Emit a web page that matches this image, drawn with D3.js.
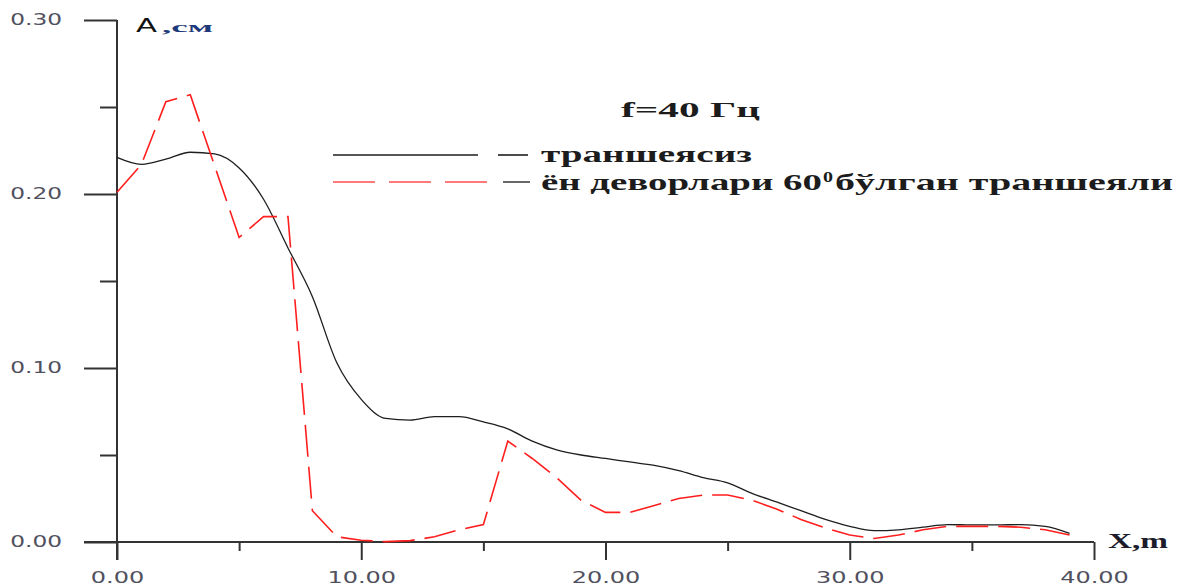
<!DOCTYPE html>
<html>
<head>
<meta charset="utf-8">
<script src="https://cdn.jsdelivr.net/npm/d3@7"></script>
<style>
  html, body { margin: 0; padding: 0; background: #fff; }
  svg { display: block; }
</style>
</head>
<body>
<svg id="chart" width="1181" height="586"></svg>
<script>
// Distance along the surface, m
const distance = [0, 1, 2, 3, 4, 5, 6, 7, 8, 9, 10, 11, 12, 13, 14, 15, 16, 17, 18, 19,
                  20, 21, 22, 23, 24, 25, 26, 27, 28, 29, 30, 31, 32, 33, 34, 35, 36, 37, 38, 39];

// Vibration amplitude without a trench, cm
const ampNoTrench = [0.221, 0.217, 0.220, 0.224, 0.223, 0.215, 0.197, 0.169, 0.141, 0.103,
                     0.082, 0.071, 0.070, 0.072, 0.072, 0.069, 0.065, 0.058, 0.053, 0.050,
                     0.048, 0.046, 0.044, 0.041, 0.037, 0.034, 0.028, 0.023, 0.018, 0.013,
                     0.009, 0.0065, 0.007, 0.0085, 0.010, 0.0098, 0.0098, 0.010, 0.009, 0.005];

// Vibration amplitude with a trench whose side walls are at 60°, cm
const ampTrench60 = [0.201, 0.217, 0.253, 0.257, 0.216, 0.175, 0.187, 0.187, 0.018, 0.003,
                     0.001, 0.0002, 0.0008, 0.003, 0.007, 0.010, 0.058, 0.048, 0.037, 0.024,
                     0.017, 0.017, 0.021, 0.025, 0.027, 0.027, 0.024, 0.019, 0.013, 0.008,
                     0.004, 0.002, 0.004, 0.007, 0.009, 0.009, 0.009, 0.0085, 0.007, 0.004];

const xMajorTicks = [0, 10, 20, 30, 40];
const xMinorTicks = [5, 15, 25, 35];
const yMajorTicks = [0, 0.1, 0.2, 0.3];
const yMinorTicks = [0.05, 0.15, 0.25];

const titleText = "f=40 Гц";
const yAxisName = "A";
const yAxisUnit = ",см";
const xAxisName = "X,m";
const legendNames = ["траншеясиз", "ён деворлари 60", "0", "бўлган траншеяли"];

const svg = d3.select("#chart");
const x = d3.scaleLinear().domain([0, 40]).range([117, 1094]);
const y = d3.scaleLinear().domain([0, 0.3]).range([542, 20]);

const axisColor = "#333";
const tickFont = "'DejaVu Sans', Verdana, sans-serif";
const serif = "'Liberation Serif', 'Times New Roman', serif";

// Stretch a text element horizontally by a factor of its natural width
function widen(sel, factor) {
  sel.each(function () {
    const w = this.getComputedTextLength();
    d3.select(this).attr("textLength", w * factor).attr("lengthAdjust", "spacingAndGlyphs");
  });
}
// Fit a text element to an exact width
function fit(sel, width) {
  sel.attr("textLength", width).attr("lengthAdjust", "spacingAndGlyphs");
}

// ---- X axis ----
const gx = svg.append("g").attr("transform", `translate(0,${y(0)})`);
gx.call(d3.axisBottom(x).tickValues(xMinorTicks).tickSize(9).tickFormat(""))
  .call(g => g.select(".domain").remove());
const gxMajor = svg.append("g").attr("transform", `translate(0,${y(0)})`)
  .call(d3.axisBottom(x).tickValues(xMajorTicks).tickSize(18).tickPadding(12).tickFormat(d3.format(".2f")))
  .call(g => g.select(".domain").remove());
svg.selectAll("g .tick line").attr("stroke", axisColor).attr("stroke-width", 2);
gxMajor.selectAll("text")
  .attr("font-family", tickFont).attr("font-size", 15).attr("fill", "#50505e")
  .call(widen, 1.6);

// ---- Y axis ----
svg.append("g").attr("transform", `translate(${x(0)},0)`)
  .call(d3.axisLeft(y).tickValues(yMinorTicks).tickSize(17).tickFormat(""))
  .call(g => g.select(".domain").remove())
  .selectAll("line").attr("stroke", axisColor).attr("stroke-width", 2);
const gyMajor = svg.append("g").attr("transform", `translate(${x(0)},0)`)
  .call(d3.axisLeft(y).tickValues(yMajorTicks).tickSize(33).tickPadding(22).tickFormat(d3.format(".2f")))
  .call(g => g.select(".domain").remove());
gyMajor.selectAll("line").attr("stroke", axisColor).attr("stroke-width", 2);
gyMajor.selectAll("text")
  .attr("font-family", tickFont).attr("font-size", 15).attr("fill", "#50505e")
  .call(widen, 1.55);

// Axis lines
svg.append("line").attr("x1", x(0) - 33).attr("x2", x(40)).attr("y1", y(0)).attr("y2", y(0))
  .attr("stroke", axisColor).attr("stroke-width", 2);
svg.append("line").attr("x1", x(0)).attr("x2", x(0)).attr("y1", y(0.3)).attr("y2", y(0) + 18)
  .attr("stroke", axisColor).attr("stroke-width", 2);

// ---- Curves ----
const pts = vals => distance.map((d, i) => [d, vals[i]]);
const smoothLine = d3.line().x(d => x(d[0])).y(d => y(d[1])).curve(d3.curveMonotoneX);
const polyLine = d3.line().x(d => x(d[0])).y(d => y(d[1]));

svg.append("path").datum(pts(ampNoTrench))
  .attr("d", smoothLine).attr("fill", "none")
  .attr("stroke", "#1e1e1e").attr("stroke-width", 1.3).attr("stroke-linejoin", "round");

svg.append("path").datum(pts(ampTrench60))
  .attr("d", polyLine).attr("fill", "none")
  .attr("stroke", "#ff1e1e").attr("stroke-width", 1.6)
  .attr("stroke-dasharray", "32,10");

// ---- Axis names ----
svg.append("text").attr("x", 136).attr("y", 32)
  .attr("font-family", tickFont).attr("font-size", 19).attr("fill", "#111")
  .text(yAxisName).call(fit, 21);
svg.append("text").attr("x", 162).attr("y", 32)
  .attr("font-family", serif).attr("font-weight", "bold").attr("font-size", 15).attr("fill", "#1f3a7a")
  .text(yAxisUnit).call(fit, 51);
svg.append("text").attr("x", 1108).attr("y", 548)
  .attr("font-family", serif).attr("font-weight", "bold").attr("font-size", 20).attr("fill", "#1c1c2c")
  .text(xAxisName).call(fit, 60);

// ---- Title ----
svg.append("text").attr("x", 621).attr("y", 117)
  .attr("font-family", serif).attr("font-weight", "bold").attr("font-size", 22).attr("fill", "#1c1c1c")
  .text(titleText).call(fit, 139);

// ---- Legend ----
const lg = svg.append("g");
lg.append("line").attr("x1", 333).attr("x2", 478).attr("y1", 155).attr("y2", 155)
  .attr("stroke", "#1e1e1e").attr("stroke-width", 1.6);
lg.append("line").attr("x1", 498).attr("x2", 528).attr("y1", 155).attr("y2", 155)
  .attr("stroke", "#1e1e1e").attr("stroke-width", 1.6);
lg.append("line").attr("x1", 333).attr("x2", 488).attr("y1", 182).attr("y2", 182)
  .attr("stroke", "#ff5050").attr("stroke-width", 1.6).attr("stroke-dasharray", "42,14");
lg.append("line").attr("x1", 503).attr("x2", 530).attr("y1", 182).attr("y2", 182)
  .attr("stroke", "#444").attr("stroke-width", 1.6);

const legendText = (tx, ty, s, w, size) =>
  lg.append("text").attr("x", tx).attr("y", ty)
    .attr("font-family", serif).attr("font-weight", "bold").attr("font-size", size).attr("fill", "#1c1c1c")
    .text(s).call(fit, w);
legendText(541, 162, legendNames[0], 211, 24);
legendText(541, 190, legendNames[1], 281, 24);
legendText(823, 182, legendNames[2], 10, 14);
legendText(835, 190, legendNames[3], 338, 24);
</script>
</body>
</html>
